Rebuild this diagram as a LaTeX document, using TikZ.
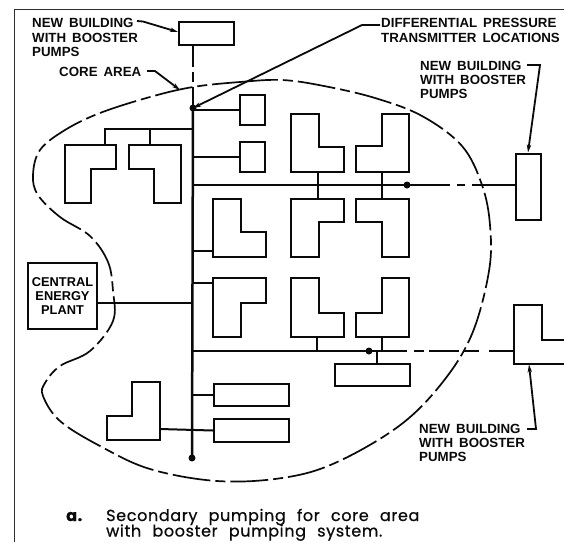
\documentclass[tikz,border=0pt]{standalone}
\usepackage{fontspec}
\setmainfont{Liberation Sans}
\newfontfamily\capfont[FakeBold=0.7,LetterSpace=4]{Poppins}
\usetikzlibrary{arrows.meta,positioning,calc}
\definecolor{ink}{HTML}{0A0A0A}
\tikzset{
  >={Stealth[length=8pt,width=4.5pt]},
  block/.style={draw=ink, line width=2pt, line join=miter},
  boxed/.style={block, rectangle, fill=white, inner sep=0pt, anchor=north west},
  main/.style={draw=ink, line width=2.5pt},
  pipe/.style={draw=ink, line width=2pt},
  leader/.style={->, draw=ink, line width=1.8pt},
  core/.style={draw=ink, line width=1.7pt, dash pattern=on 38pt off 5pt on 10pt off 5pt},
  tap/.style={circle, fill=ink, inner sep=0pt, minimum size=7pt},
  tag/.style={font=\bfseries\fontsize{13.3}{14.2}\selectfont, text=ink, align=left, anchor=north west, inner sep=0pt, text depth=0pt},
  caption/.style={font=\capfont\fontsize{16}{16}\selectfont, text=ink, align=left, anchor=base west, inner sep=0pt}
}
\newcommand{\wsp}{\hspace{0.45em}}
\newcommand{\csp}{\hspace{0.7em}}
\begin{document}
\begin{tikzpicture}[x=1pt,y=-1pt]
  \useasboundingbox (0,0) rectangle (564,542);
  \fill[white] (0,0) rectangle (564,542);
  % ---- Frame ----
  \draw[ink!85, line width=1pt] (14.5,542) -- (14.5,9.5) -- (564,9.5);

  % ---- Core area ----
  \draw[core] plot[smooth cycle, tension=0.6] coordinates {
    (193,87) (240,82) (282,80) (324,86) (375,98) (422,116) (462,146) (482,185)
    (490,225) (489,271) (472,334) (442,383) (399,426) (335,463) (282,478) (217,481)
    (150,469) (100,446) (60,421) (43,396) (45,383) (60,366) (90,351) (113,321)
    (113,291) (108,262) (90,236) (60,217) (38,195) (33,175) (40,150) (65,130)
    (100,113) (150,97)};

  % ---- Rectangular buildings ----
  \node[boxed, minimum width=55pt, minimum height=22.5pt] (top) at (178,21) {};
  \node[boxed, minimum width=25pt, minimum height=30pt] (smalla) at (239,94) {};
  \node[boxed, minimum width=25pt, minimum height=30pt] (smallb) at (239,141) {};
  \node[boxed, minimum width=25pt, minimum height=66.5pt] (east) at (515,152.5) {};
  \node[boxed, minimum width=75pt, minimum height=22pt] (south) at (334,363) {};
  \node[boxed, minimum width=75pt, minimum height=22pt] (longa) at (213,383) {};
  \node[boxed, minimum width=75pt, minimum height=23pt] (longb) at (213,418) {};
  \node[boxed, minimum width=69pt, minimum height=66pt, align=center,
        font=\bfseries\fontsize{12.8}{14}\selectfont] (plant) at (27,262) {CENTRAL\\ENERGY\\PLANT};

  % ---- L-shaped buildings ----
  \draw[block] (65,145) -- (116,145) -- (116,169) -- (91,169) -- (91,203) -- (65,203) -- cycle;
  \draw[block] (129,145) -- (181,145) -- (181,203) -- (154,203) -- (154,169) -- (129,169) -- cycle;
  \draw[block] (291,114) -- (319,114) -- (319,147) -- (344,147) -- (344,172) -- (291,172) -- cycle;
  \draw[block] (382,114) -- (409,114) -- (409,172) -- (356,172) -- (356,146) -- (382,146) -- cycle;
  \draw[block] (291,198.5) -- (344,198.5) -- (344,222) -- (319,222) -- (319,257) -- (291,257) -- cycle;
  \draw[block] (356,198.5) -- (409,198.5) -- (409,257) -- (382,257) -- (382,222) -- (356,222) -- cycle;
  \draw[block] (213,199) -- (241,199) -- (241,232) -- (266,232) -- (266,257) -- (213,257) -- cycle;
  \draw[block] (213,278) -- (266,278) -- (266,303) -- (241,303) -- (241,337) -- (213,337) -- cycle;
  \draw[block] (291,278) -- (319,278) -- (319,313) -- (344,313) -- (344,337) -- (291,337) -- cycle;
  \draw[block] (382,278) -- (409,278) -- (409,337) -- (356,337) -- (356,313) -- (382,313) -- cycle;
  \draw[block] (132,382) -- (160,382) -- (160,440) -- (107,440) -- (107,416) -- (132,416) -- cycle;
  \draw[block] (568,340) -- (542,340) -- (542,305) -- (514,305) -- (514,364) -- (568,364);

  % ---- Points on the mains ----
  \node[tap] (taptop) at (193,108) {};
  \node[tap] (tapend) at (192,458) {};
  \node[tap] (tapeast) at (407,185) {};
  \node[tap] (tapsouth) at (369,351) {};
  \coordinate (leftbranch) at (104.5,128.5);
  \coordinate (lmida) at (213,251);
  \coordinate (lmidb) at (213,283);
  \coordinate (ldown) at (160,429);
  \coordinate (leastl) at (514,351);

  % ---- Mains ----
  \draw[main] (taptop.center) -- (tapend.center);
  \draw[pipe, dash pattern=on 21pt off 5pt on 10pt off 5pt on 30pt] (top.south -| taptop) -- (taptop.center);
  \draw[pipe] (taptop.center |- tapeast) -- (tapeast.center);
  \draw[pipe, dash pattern=on 43pt off 7pt on 8pt off 7pt on 60pt] (tapeast.center) -- (east.west |- tapeast);
  \draw[pipe] (taptop.center |- tapsouth) -- (tapsouth.center);
  \draw[pipe, dash pattern=on 38pt off 7pt on 10pt off 5pt on 30pt off 5pt on 15pt off 10pt on 30pt] (tapsouth.center) -- (leastl);

  % ---- Branches ----
  \draw[pipe] (smalla.west) -- (smalla.west -| taptop);
  \draw[pipe] (smallb.west) -- (smallb.west -| taptop);
  \draw[pipe] (leftbranch |- 0,145) -- (leftbranch) -- (leftbranch -| taptop);
  \draw[pipe] (150,145) -- (150,128.5);
  \draw[pipe] (lmida) -- (lmida -| taptop);
  \draw[pipe] (lmidb) -- (lmidb -| taptop);
  \draw[pipe] (plant.east |- 0,303) -- (taptop |- 0,303);
  \draw[pipe] (longa.west) -- (longa.west -| taptop);
  \draw[pipe] (ldown) -- (longb.west);
  \draw[pipe] (318,172) -- (318,198.5);
  \draw[pipe] (382,172) -- (382,198.5);
  \draw[pipe] (317,337) -- (317,351);
  \draw[pipe] (382,337) -- (382,351);
  \draw[pipe] (377,351) -- (377,363);

  % ---- Labels ----
  \node[tag] (newtop) at (32,18.5) {NEW\wsp BUILDING\\WITH\wsp BOOSTER\\PUMPS};
  \node[tag] (corelabel) at (59,67.5) {CORE\wsp AREA};
  \node[tag] (difflabel) at (381,18.5) {DIFFERENTIAL\wsp PRESSURE\\TRANSMITTER\wsp LOCATIONS};
  \node[tag] (neweast) at (420,61) {NEW\wsp BUILDING\\WITH\wsp BOOSTER\\PUMPS};
  \node[tag] (newsouth) at (419,424) {NEW\wsp BUILDING\\WITH\wsp BOOSTER\\PUMPS};
  \node[caption] (capa) at (66,521) {\bfseries a.};
  \node[caption] (captexta) at (106,521) {Secondary\csp pumping\csp for\csp core\csp area};
  \node[caption] (captextb) at (106,536.5) {with\csp booster\csp pumping\csp system.};

  % ---- Leaders ----
  \draw[leader] (137,21) -- (143,21.5) -- (top.west |- 0,32);
  \draw[leader] (147,71) -- (155,71) -- (180,90);
  \draw[leader] (380,25) -- (362,25) -- (taptop.center);
  \draw[leader] (527,65) -- (540,65) -- (east.north -| 528,0);
  \draw[leader] (527,429) -- (536,429) -- (529,364.5);
\end{tikzpicture}
\end{document}
